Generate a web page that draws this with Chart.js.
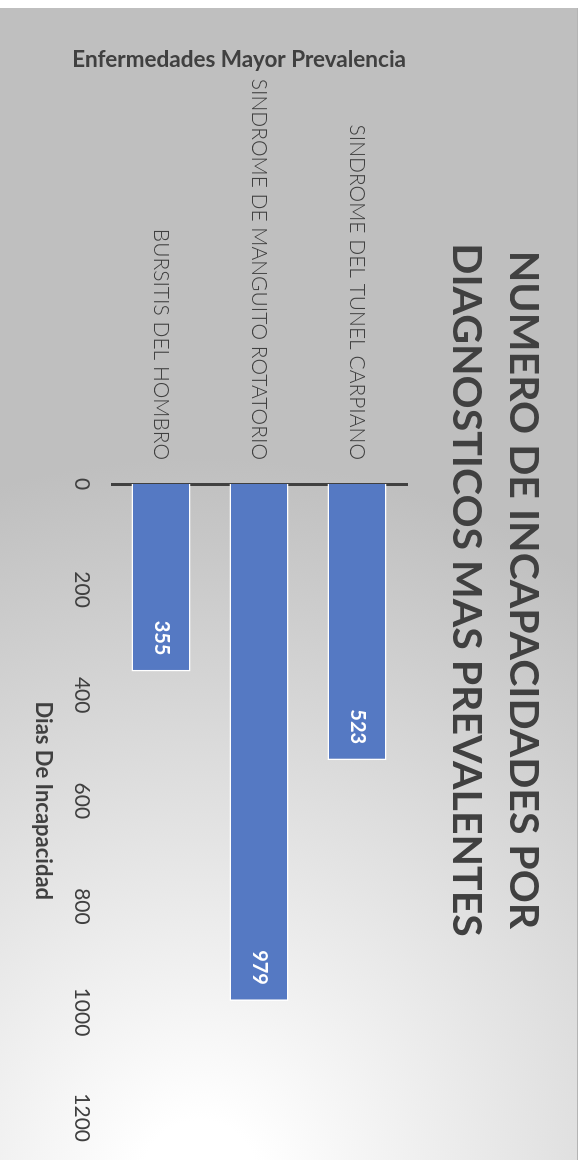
<!DOCTYPE html>
<html lang="es">
<head>
<meta charset="utf-8">
<title>Incapacidades por diagnostico</title>
<script src="https://cdn.jsdelivr.net/npm/chart.js@4.4.1/dist/chart.umd.min.js"></script>
<style>
    html, body {
        margin: 0;
        padding: 0;
        background: #ffffff;
        overflow: hidden;
    }
    /* the chart is laid out landscape and turned a quarter clockwise */
    #panel {
        position: absolute;
        left: 0;
        top: 0;
        width: 1152px;
        height: 578px;
        transform-origin: 0 0;
        transform: translate(578px, 8px) rotate(90deg);
    }
</style>
</head>
<body>
<div id="panel">
    <canvas id="bar-chart" width="1152" height="578"></canvas>
</div>
<script>
const categories = ['SINDROME DEL TUNEL CARPIANO', 'SINDROME DE MANGUITO ROTATORIO', 'BURSITIS DEL HOMBRO'];
const diasIncapacidad = [523, 979, 355];
const valueTicks = [0, 200, 400, 600, 800, 1000, 1200];

const titleLines = ['NUMERO DE INCAPACIDADES POR', 'DIAGNOSTICOS MAS PREVALENTES'];
const xTitle = 'Dias De Incapacidad';
const yTitle = 'Enfermedades Mayor Prevalencia';

const textColor = '#404040';
const barColor = '#5579c3';

Chart.defaults.font.family = 'Lato, "Open Sans", sans-serif';
Chart.defaults.color = textColor;

// grey panel that fades to white towards the bottom right corner
const panelBackground = {
    id: 'panelBackground',
    beforeDraw(chart) {
        const ctx = chart.ctx;
        const w = chart.width, h = chart.height;
        const g = ctx.createRadialGradient(w + 18, h - 200, 0, w + 18, h - 200, 720);
        g.addColorStop(0, '#ffffff');
        g.addColorStop(0.08, '#ffffff');
        g.addColorStop(1, '#bfbfbf');
        ctx.save();
        ctx.fillStyle = g;
        ctx.fillRect(0, 0, w, h);
        ctx.strokeStyle = '#b4b4b4';
        ctx.lineWidth = 1;
        ctx.beginPath();
        ctx.moveTo(0, 0.5);
        ctx.lineTo(w, 0.5);
        ctx.stroke();
        ctx.restore();
    }
};

// value written inside the end of each bar
const barValues = {
    id: 'barValues',
    afterDatasetsDraw(chart) {
        const ctx = chart.ctx;
        const meta = chart.getDatasetMeta(0);
        ctx.save();
        ctx.font = 'bold 20px Lato, "Open Sans", sans-serif';
        ctx.fillStyle = '#ffffff';
        ctx.textAlign = 'right';
        ctx.textBaseline = 'middle';
        meta.data.forEach((bar, i) => {
            ctx.fillText(String(diasIncapacidad[i]), bar.x - 16, bar.y);
        });
        ctx.restore();
    }
};

const canva = document.querySelector('#bar-chart');

new Chart(canva, {
    type: 'bar',
    data: {
        labels: categories,
        datasets: [
            {
                label: xTitle,
                data: diasIncapacidad,
                backgroundColor: barColor,
                borderColor: '#ffffff',
                borderWidth: 1.5,
                barPercentage: 0.6,
                categoryPercentage: 1
            }
        ]
    },
    options: {
        indexAxis: 'y',
        responsive: false,
        animation: false,
        devicePixelRatio: 1,
        layout: {
            padding: { left: 54, right: 42, top: 0, bottom: 0 }
        },
        plugins: {
            legend: { display: false },
            tooltip: { enabled: false },
            title: {
                display: true,
                text: titleLines,
                color: textColor,
                font: { size: 41, weight: 'bold', lineHeight: 1.39 },
                padding: { top: 26.5, bottom: 31.5 }
            }
        },
        scales: {
            x: {
                min: valueTicks[0],
                max: valueTicks[valueTicks.length - 1],
                afterBuildTicks(scale) {
                    scale.ticks = valueTicks.map(v => ({ value: v }));
                },
                afterFit(scale) {
                    scale.height = 112;
                },
                grid: { display: false, drawTicks: false },
                border: { display: false },
                ticks: {
                    padding: 18,
                    color: textColor,
                    font: { size: 21 },
                    callback: (value) => String(value)
                },
                title: {
                    display: true,
                    text: xTitle,
                    color: textColor,
                    font: { size: 22, weight: 'bold' },
                    padding: { top: 0, bottom: 30 }
                }
            },
            y: {
                afterFit(scale) {
                    scale.width = 422;
                },
                grid: { display: false, drawTicks: false },
                border: { display: true, color: textColor, width: 3 },
                ticks: {
                    padding: 24,
                    color: textColor,
                    font: { size: 21, weight: 300 }
                },
                title: {
                    display: true,
                    text: yTitle,
                    align: 'end',
                    color: textColor,
                    font: { size: 22.5, weight: 'bold' },
                    padding: { top: -15.5, bottom: 0 }
                }
            }
        }
    },
    plugins: [panelBackground, barValues]
});
</script>
</body>
</html>
